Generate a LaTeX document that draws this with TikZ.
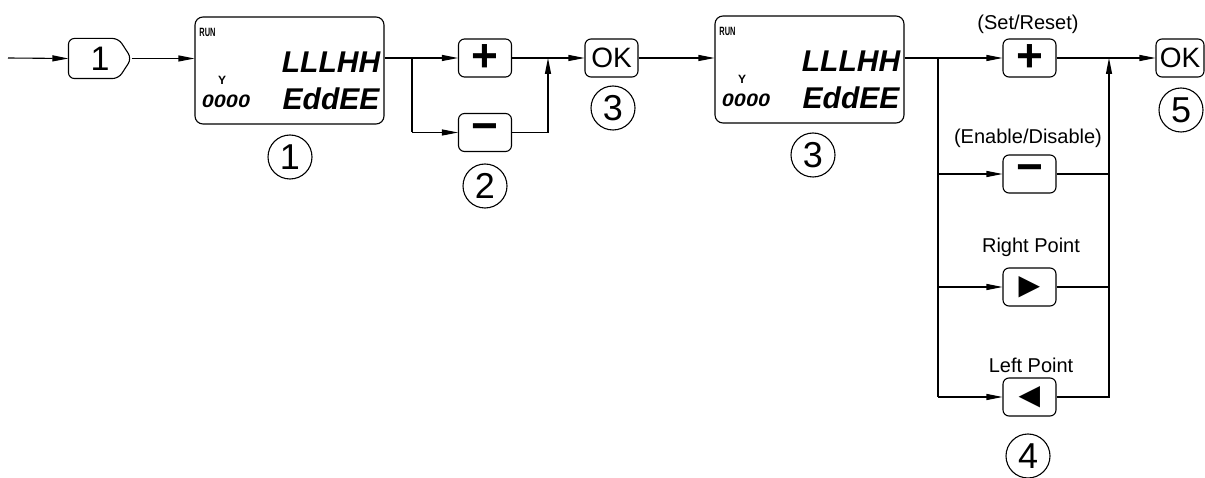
\documentclass[tikz,border=0pt]{standalone}
\usepackage{fontspec}
\usepackage{graphicx}
\setmainfont{Liberation Sans}
\newfontfamily\symfont{DejaVu Sans}
\usetikzlibrary{arrows.meta}
\begin{document}
\begin{tikzpicture}[x=1pt,y=-1pt,line width=1.1pt,
  >={Triangle[length=16pt,width=6pt]},
  btn/.style={draw,rounded corners=6pt,minimum width=53pt,minimum height=38pt,inner sep=0pt,font=\fontsize{28}{28}\selectfont},
  pm/.style={btn,font=\fontsize{46}{46}\selectfont\bfseries},
  arr/.style={btn,font=\fontsize{28}{28}\symfont},
  num/.style={circle,draw,minimum size=44pt,inner sep=0pt,font=\fontsize{36}{36}\selectfont},
  lcdbox/.style={draw,rounded corners=8pt,minimum width=189pt,minimum height=107pt,inner sep=0pt},
  lbl/.style={inner sep=0pt,font=\fontsize{20}{20}\selectfont},
  seg/.style={inner sep=0pt,font=\fontsize{30}{30}\selectfont\bfseries\itshape},
  tiny/.style={inner sep=0pt,font=\fontsize{12}{12}\selectfont\bfseries},
  zeros/.style={inner sep=0pt,font=\fontsize{18}{18}\selectfont\bfseries\itshape}]
\useasboundingbox (0,0) rectangle (1205,478);

% entry
\coordinate (start) at (8,58);
\node[minimum width=62pt,minimum height=39pt,inner sep=0pt,font=\fontsize{34}{34}\selectfont] (k1) at (100,58.5) {1};
\draw[rounded corners=6pt] (k1.north west) -- ([xshift=-13pt]k1.north east) -- (k1.east) -- ([xshift=-13pt]k1.south east) -- (k1.south west) -- cycle;
\draw[->] (start) -- (k1.west);

% LCD 1
\begin{scope}[name prefix=a-]
\node[lcdbox] (lcd) at (289.5,70.5) {};
\node[tiny] (run) at (207.5,32.5) {\scalebox{0.62}[1]{RUN}};
\node[tiny] (y) at (222,80.5) {Y};
\node[zeros] (z) at (226,101) {\scalebox{1.2}[1]{0000}};
\node[seg] (top) at (331,62.5) {LLLHH};
\node[seg] (bot) at (331,99) {EddEE};
\end{scope}
\node[num] (c1) at (290,157) {1};
\draw[->] (k1.east) -- (k1.east -| a-lcd.west);

% +/- step
\coordinate (br1) at (412,58);
\coordinate (m1) at (548,58);
\node[pm] (plus1) at (485,58) {+};
\node[pm] (minus1) at (485,132.5) {−};
\node[num] (c2) at (485,186) {2};
\node[btn] (ok1) at (611.5,58) {OK};
\node[num] (c3a) at (613,108) {3};
\draw (br1 -| a-lcd.east) -- (br1) -- (br1 |- minus1);
\draw[->] (br1) -- (plus1.west);
\draw[->] (br1 |- minus1) -- (minus1.west);
\draw (plus1.east) -- (m1);
\draw[->] (minus1.east) -- (m1 |- minus1) -- (m1);
\draw[->] (m1) -- (ok1.west);

% LCD 2
\begin{scope}[shift={(520,-1)},name prefix=b-]
\node[lcdbox] (lcd) at (289.5,70.5) {};
\node[tiny] (run) at (207.5,32.5) {\scalebox{0.62}[1]{RUN}};
\node[tiny] (y) at (222,80.5) {Y};
\node[zeros] (z) at (226,101) {\scalebox{1.2}[1]{0000}};
\node[seg] (top) at (331,62.5) {LLLHH};
\node[seg] (bot) at (331,99) {EddEE};
\end{scope}
\node[num] (c3b) at (813,155) {3};
\draw[->] (ok1.east) -- (ok1.east -| b-lcd.west);

% key choices
\coordinate (br2) at (938,58);
\coordinate (m2) at (1109,58);
\node[pm] (plus2) at (1029.5,58) {+};
\node[lbl] (lset) at (1028,24) {(Set/Reset)};
\node[pm] (minus2) at (1029.5,174) {−};
\node[lbl] (len) at (1028,138) {(Enable/Disable)};
\node[arr] (right2) at (1029.5,287) {▶};
\node[lbl] (lright) at (1031,247) {Right Point};
\node[arr] (left2) at (1029.5,397) {◀};
\node[lbl] (lleft) at (1031,365) {Left Point};
\node[num] (c4) at (1028,456) {4};
\node[btn,minimum width=48pt] (ok2) at (1180,58) {OK};
\node[num] (c5) at (1181,110) {5};

\draw (br2 -| b-lcd.east) -- (br2) -- (br2 |- left2);
\draw[->] (br2) -- (plus2.west);
\draw[->] (br2 |- minus2) -- (minus2.west);
\draw[->] (br2 |- right2) -- (right2.west);
\draw[->] (br2 |- left2) -- (left2.west);
\draw (plus2.east) -- (m2);
\draw (minus2.east) -- (m2 |- minus2);
\draw (right2.east) -- (m2 |- right2);
\draw[->] (left2.east) -- (m2 |- left2) -- (m2);
\draw[->] (m2) -- (ok2.west);
\end{tikzpicture}
\end{document}
